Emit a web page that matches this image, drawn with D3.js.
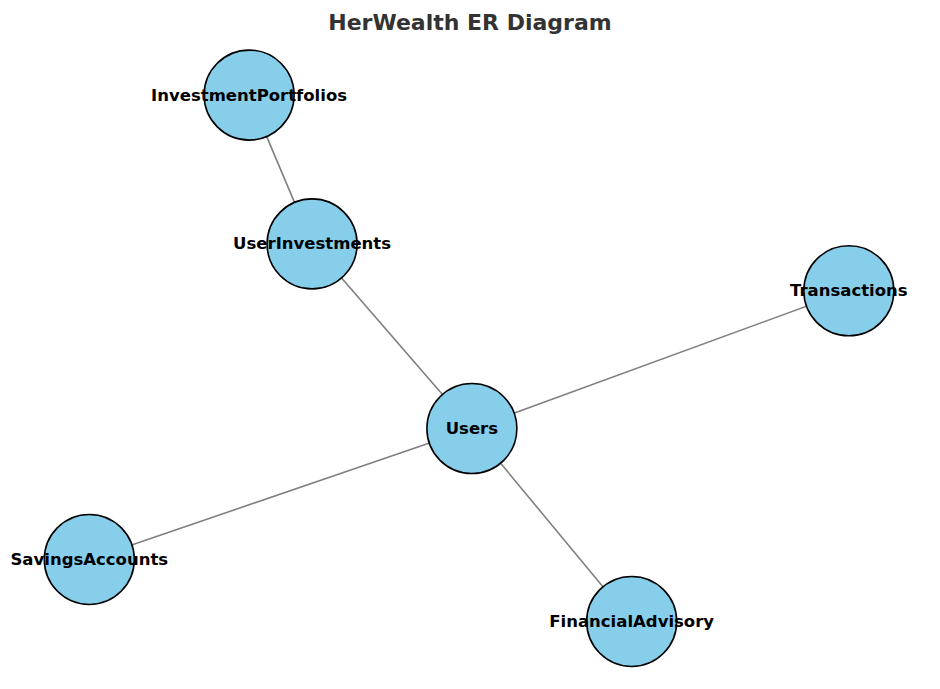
<!DOCTYPE html>
<html>
<head>
<meta charset="utf-8">
<script src="https://cdn.jsdelivr.net/npm/d3@7"></script>
<style>
  body { margin: 0; background: #fff; }
  text { font-family: "DejaVu Sans", sans-serif; }
</style>
</head>
<body>
<svg width="940" height="689"></svg>
<script>
// node names and layout positions (layout units, 0..1)
const nodes = ["Users", "Transactions", "SavingsAccounts", "InvestmentPortfolios", "UserInvestments", "FinancialAdvisory"];
const nodeX = [0.502, 0.903, 0.095, 0.265, 0.332, 0.672];
const nodeY = [0.378, 0.578, 0.188, 0.862, 0.646, 0.098];
const links = [
  ["Users", "Transactions"],
  ["Users", "SavingsAccounts"],
  ["Users", "UserInvestments"],
  ["Users", "FinancialAdvisory"],
  ["UserInvestments", "InvestmentPortfolios"]
];

const svg = d3.select("svg");
const x = d3.scaleLinear().domain([0, 1]).range([0, 940]);
const y = d3.scaleLinear().domain([0, 1]).range([689, 0]);
const pos = {};
nodes.forEach((n, i) => pos[n] = [x(nodeX[i]), y(nodeY[i])]);

svg.append("text")
  .attr("x", 470).attr("y", 30)
  .attr("text-anchor", "middle")
  .attr("font-size", 22).attr("font-weight", "bold")
  .attr("fill", "#333")
  .text("HerWealth ER Diagram");

svg.selectAll("line")
  .data(links)
  .enter()
  .append("line")
  .attr("x1", d => pos[d[0]][0]).attr("y1", d => pos[d[0]][1])
  .attr("x2", d => pos[d[1]][0]).attr("y2", d => pos[d[1]][1])
  .attr("stroke", "#808080").attr("stroke-width", 1.6);

svg.selectAll("circle")
  .data(nodes)
  .enter()
  .append("circle")
  .attr("cx", d => pos[d][0]).attr("cy", d => pos[d][1])
  .attr("r", 45)
  .attr("fill", "#87ceeb")
  .attr("stroke", "#000").attr("stroke-width", 1.6);

svg.selectAll("text.lbl")
  .data(nodes)
  .enter()
  .append("text")
  .attr("class", "lbl")
  .attr("x", d => pos[d][0]).attr("y", d => pos[d][1])
  .attr("text-anchor", "middle")
  .attr("dominant-baseline", "central")
  .attr("font-size", 16.5).attr("font-weight", "bold")
  .attr("fill", "#000")
  .text(d => d);
</script>
</body>
</html>
